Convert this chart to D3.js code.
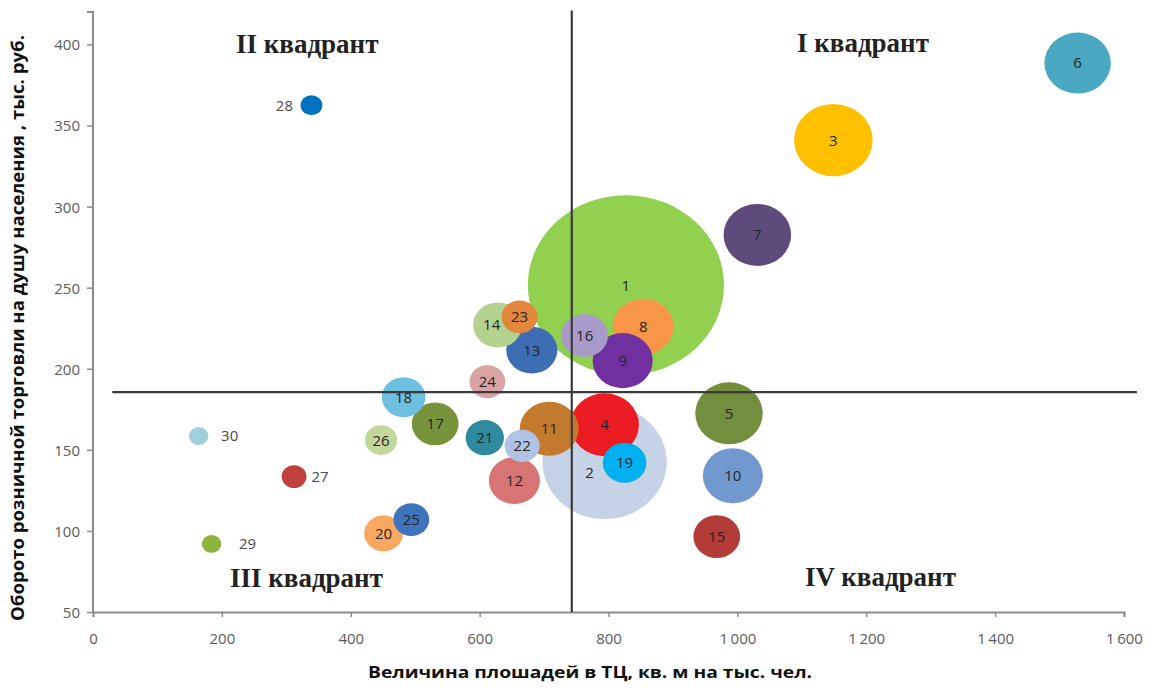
<!DOCTYPE html>
<html>
<head>
<meta charset="utf-8">
<script src="https://cdn.jsdelivr.net/npm/d3@7"></script>
<style>
  body { margin: 0; background: #fff; }
  svg { display: block; }
</style>
</head>
<body>
<script>
const W = 1151, H = 692

// regions 1..30
const ids = [1, 2, 3, 4, 5, 6, 7, 8, 9, 10, 11, 12, 13, 14, 15, 16, 17, 18, 19, 20, 21, 22, 23, 24, 25, 26, 27, 28, 29, 30]
// area of shopping centres, sq. m per 1000 people
const area = [827, 794, 1149, 794, 987, 1528, 1031, 854, 822, 993, 708, 654, 681, 628, 968, 763, 531, 482, 825, 451, 608, 666, 662, 612, 494, 447, 312, 339, 184, 164]
// retail turnover per capita, thous. rub.
const turnover = [251.5, 142.5, 341, 165.5, 172.5, 388.5, 282.5, 226, 205, 134, 163, 131, 211.5, 227, 96.5, 220.5, 166, 182.5, 142, 98.5, 157.5, 152.5, 232, 192, 107, 156, 133.5, 362.5, 92, 158.5]
const bubbleSize = [810, 325, 130, 99, 96, 93, 96, 78, 76, 76, 73, 55, 55, 51, 46, 46, 46, 40, 40, 32, 31, 26, 27, 27, 27, 22, 13, 10, 8, 8]
const colors = ["#92d050", "#c6d2e6", "#ffc000", "#ec1c24", "#738e3c", "#4ba8c2", "#5f4a7c", "#f79646", "#7030a0", "#7199d0",
                "#c47a2c", "#d67574", "#3d6eb4", "#b5d18f", "#b33b38", "#a89bc9", "#77933c", "#6ebfe0", "#00b0f0", "#f9a862",
                "#2f8a9f", "#b0c3e5", "#e2873c", "#daa3a3", "#3f73bb", "#c3d69b", "#c0403e", "#0070c0", "#8db43e", "#a0cfdc"]

const xTicks = [0, 200, 400, 600, 800, 1000, 1200, 1400, 1600]
const yTicks = [50, 100, 150, 200, 250, 300, 350, 400]

const avgArea = 743
const avgTurnover = 185.6

const quadrantNames = ["I квадрант", "II квадрант", "III квадрант", "IV квадрант"]
// where each quadrant name sits (left edge, baseline)
const quadrantPos = [[797, 52], [236, 53], [230, 587], [805, 586]]

// labels that sit beside their bubble instead of on it
const labelShift = { 2: [-15, 11], 14: [-6, 0], 27: [26, 0], 28: [-27, 0], 29: [36, 0], 30: [31, 0] }

const svg = d3.select("body").append("svg")
              .attr("width", W)
              .attr("height", H)

const x = d3.scaleLinear().domain([0, 1600]).range([93, 1124])
const y = d3.scaleLinear().domain([50, 420]).range([612, 12])
const r = d3.scaleSqrt().domain([0, 810]).range([0, 90])
const stretch = 1.09

const fmt = d3.formatLocale({ decimal: ",", thousands: "\u2009", grouping: [3], currency: ["", ""] }).format(",d")

const points = ids.map((id, i) => ({ id, ax: area[i], tv: turnover[i], s: bubbleSize[i], c: colors[i] }))

// bubbles, largest at the back
svg.append("g")
   .selectAll("ellipse")
   .data(points.slice().sort((a, b) => b.s - a.s))
   .join("ellipse")
      .attr("cx", d => x(d.ax))
      .attr("cy", d => y(d.tv))
      .attr("rx", d => r(d.s) * stretch)
      .attr("ry", d => r(d.s))
      .attr("fill", d => d.c)

// axes
const axisColor = "#8c8c8c"
const gx = svg.append("g")
              .attr("transform", `translate(0,${y(50)})`)
              .call(d3.axisBottom(x).tickValues(xTicks).tickSize(5).tickPadding(16).tickFormat(fmt))
const gy = svg.append("g")
              .attr("transform", `translate(${x(0)},0)`)
              .call(d3.axisLeft(y).tickValues(yTicks).tickSize(6).tickPadding(7))

;[gx, gy].forEach(g => {
  g.select(".domain").attr("stroke", axisColor).attr("stroke-width", 2)
  g.selectAll(".tick line").attr("stroke", axisColor).attr("stroke-width", 1.5)
  g.selectAll(".tick text")
     .attr("fill", "#5a5a5a")
     .style("font-family", "'Open Sans', sans-serif")
     .style("font-size", "15px")
})
gy.select(".domain").attr("d", `M-6,${y(420)}H0V${y(50)}`)
gy.selectAll(".tick text").attr("dy", "0.36em")

// quadrant split lines
const lines = svg.append("g")
                 .attr("stroke", "#3a3a3a")
                 .attr("stroke-width", 2.2)
lines.append("line")
     .attr("x1", x(avgArea)).attr("x2", x(avgArea))
     .attr("y1", y(421)).attr("y2", y(50))
lines.append("line")
     .attr("x1", x(30)).attr("x2", x(1620))
     .attr("y1", y(avgTurnover)).attr("y2", y(avgTurnover))

// data labels
svg.append("g")
   .style("font-family", "'Open Sans', sans-serif")
   .style("font-size", "15px")
   .attr("text-anchor", "middle")
   .selectAll("text")
   .data(points)
   .join("text")
      .attr("x", d => x(d.ax) + (labelShift[d.id] ? labelShift[d.id][0] : 0))
      .attr("y", d => y(d.tv) + (labelShift[d.id] ? labelShift[d.id][1] : 0))
      .attr("dy", "0.36em")
      .attr("fill", d => labelShift[d.id] && d.id > 26 ? "#4a4a4a" : "#262626")
      .text(d => d.id)

// quadrant names
svg.append("g")
   .style("font-family", "'Liberation Serif', 'Times New Roman', serif")
   .style("font-weight", "bold")
   .style("font-size", "27px")
   .attr("fill", "#222")
   .selectAll("text")
   .data(quadrantNames)
   .join("text")
      .attr("x", (d, i) => quadrantPos[i][0])
      .attr("y", (d, i) => quadrantPos[i][1])
      .text(d => d)

// axis titles
svg.append("text")
   .attr("x", 590).attr("y", 678)
   .attr("text-anchor", "middle")
   .attr("textLength", 444)
   .attr("lengthAdjust", "spacingAndGlyphs")
   .style("font-family", "'Open Sans', sans-serif")
   .style("font-weight", "bold")
   .style("font-size", "16px")
   .attr("fill", "#111")
   .text("Величина плошадей в ТЦ, кв. м на  тыс. чел.")

svg.append("text")
   .attr("transform", "translate(24,328) rotate(-90)")
   .attr("text-anchor", "middle")
   .attr("textLength", 586)
   .attr("lengthAdjust", "spacingAndGlyphs")
   .style("font-family", "'Open Sans', sans-serif")
   .style("font-weight", "bold")
   .style("font-size", "17px")
   .attr("fill", "#111")
   .text("Оборото розничной торговли на душу населения , тыс. руб.")
</script>
</body>
</html>
